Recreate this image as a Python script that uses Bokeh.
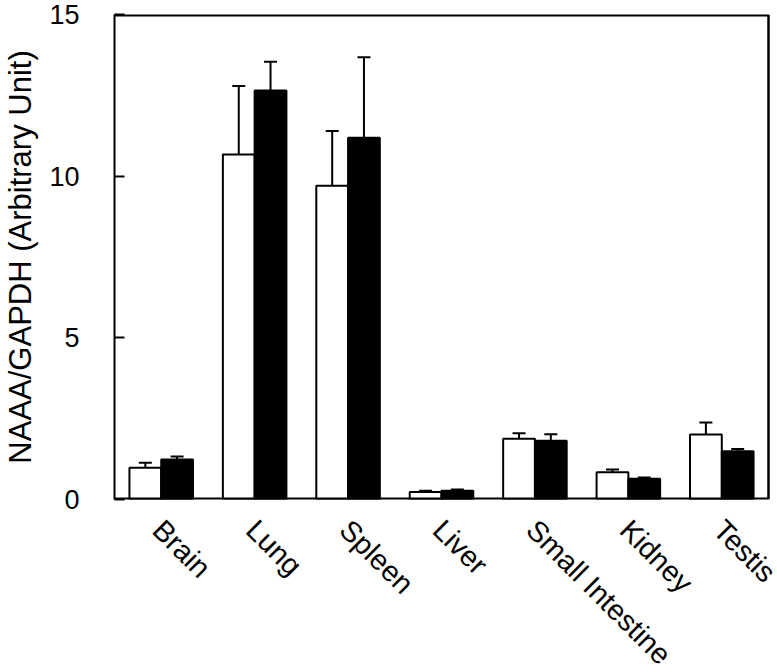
import math
from bokeh.plotting import figure
from bokeh.layouts import column
from bokeh.core.properties import value
from bokeh.models import Range1d, FixedTicker, Whisker, TeeHead, ColumnDataSource
from bokeh.embed import file_html
from bokeh.resources import INLINE

categories = ["Brain", "Lung", "Spleen", "Liver", "Small Intestine", "Kidney", "Testis"]
white_vals = [0.98, 10.67, 9.70, 0.23, 1.88, 0.84, 2.01]
white_err = [0.16, 2.12, 1.70, 0.04, 0.17, 0.09, 0.37]
black_vals = [1.24, 12.65, 11.19, 0.27, 1.82, 0.64, 1.49]
black_err = [0.09, 0.89, 2.49, 0.04, 0.20, 0.04, 0.07]
y_ticks = [0, 5, 10, 15]
Y_MAX = 15

FONT = "Liberation Sans"
off = 0.17
bw = 0.34

W = 777
TOP_H = 515
BOT_H = 672 - TOP_H
LEFT = 114
BOX_RIGHT_GAP = 9     # space between the drawn box and the page edge
TOP = 14
BOTTOM = 16
n = len(categories)

centers = [i + 0.5 for i in range(n)]
wsrc = ColumnDataSource(dict(x=[c - off for c in centers], top=white_vals,
                             up=[v + e for v, e in zip(white_vals, white_err)]))
bsrc = ColumnDataSource(dict(x=[c + off for c in centers], top=black_vals,
                             up=[v + e for v, e in zip(black_vals, black_err)]))

ux = n / (W - LEFT - BOX_RIGHT_GAP)
xr = Range1d(0, n + BOX_RIGHT_GAP * ux)

p = figure(width=W, height=TOP_H, output_backend="svg", toolbar_location=None,
           x_range=xr, y_range=Range1d(0, Y_MAX), x_axis_location=None,
           min_border_left=LEFT, min_border_top=TOP, min_border_right=0,
           min_border_bottom=BOTTOM)
p.grid.visible = False
p.outline_line_color = None
p.background_fill_color = "white"
p.border_fill_color = "white"

p.vbar(x="x", top="top", width=bw, bottom=0, source=wsrc, fill_color="white",
       line_color="black", line_width=2)
p.vbar(x="x", top="top", width=bw, bottom=0, source=bsrc, fill_color="black",
       line_color="black", line_width=2)

for src in (wsrc, bsrc):
    w = Whisker(base="x", lower="top", upper="up", source=src, dimension="height",
                line_color="black", line_width=2, lower_head=None,
                upper_head=TeeHead(size=13, line_color="black", line_width=2))
    p.add_layout(w)

# box around the plotting area: top and bottom sit on the frame edge (half clipped)
p.segment(x0=[0, 0], y0=[Y_MAX, 0], x1=[n, n], y1=[Y_MAX, 0],
          line_color="black", line_width=4)
p.segment(x0=[n], y0=[0], x1=[n], y1=[Y_MAX], line_color="black", line_width=2.5)

yax = p.yaxis[0]
yax.ticker = FixedTicker(ticks=y_ticks)
yax.axis_label = "NAAA/GAPDH (Arbitrary Unit)"
yax.axis_label_text_font = FONT
yax.axis_label_text_font_size = "31px"
yax.axis_label_text_font_style = "normal"
yax.axis_label_text_color = "black"
yax.axis_label_standoff = 8
yax.major_label_text_font = FONT
yax.major_label_text_font_size = "27px"
yax.major_label_text_color = "black"
yax.major_label_standoff = 35
yax.major_tick_in = 10
yax.major_tick_out = 0
yax.minor_tick_in = 0
yax.minor_tick_out = 0
yax.axis_line_width = 2
yax.major_tick_line_width = 2

# category labels in a strip below (its frame lines up with the main frame)
p2 = figure(width=W, height=BOT_H, output_backend="svg", toolbar_location=None,
            x_range=xr, y_range=Range1d(0, 1),
            x_axis_location=None, y_axis_location=None,
            min_border_left=LEFT, min_border_right=0,
            min_border_top=0, min_border_bottom=0)
p2.grid.visible = False
p2.outline_line_color = None
p2.background_fill_color = "white"
p2.border_fill_color = "white"
lsrc = ColumnDataSource(dict(x=centers, y=[1] * n, text=categories))
p2.text(x="x", y="y", text="text", source=lsrc, angle=-math.pi / 4,
        text_align="left", text_baseline="top", x_offset=8, y_offset=-2,
        text_font=value(FONT), text_font_size=value("29px"), text_color="black")

layout = column(p, p2, spacing=0)
open("out.html", "w").write(file_html(layout, INLINE))
